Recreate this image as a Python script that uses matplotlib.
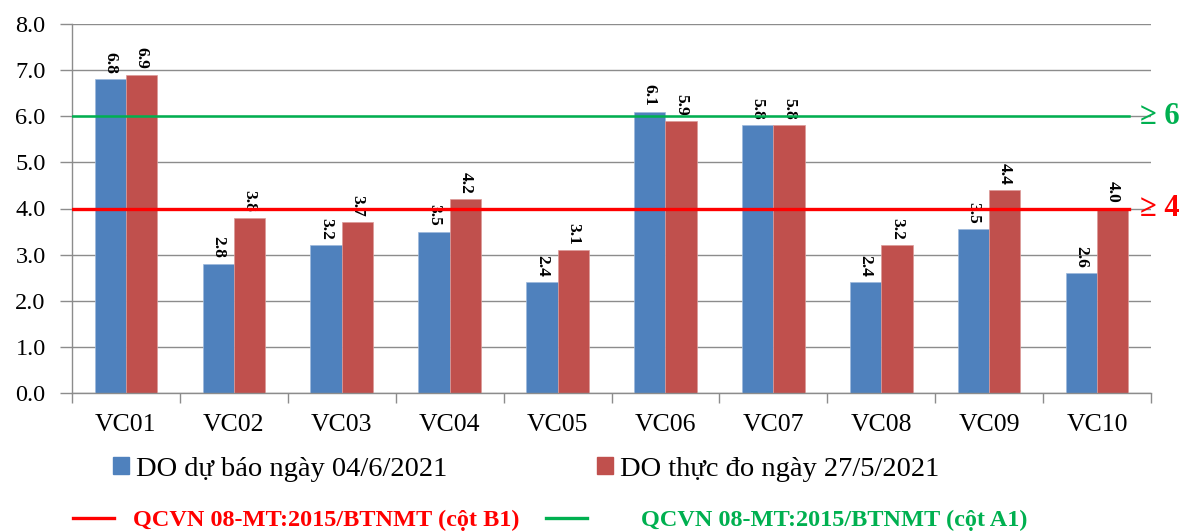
import matplotlib
matplotlib.use('Agg')
import matplotlib.pyplot as plt
import numpy as np
from matplotlib.lines import Line2D
from matplotlib.patches import Patch

# ── Data ──────────────────────────────────────────────────────────────────────
stations = ['VC01', 'VC02', 'VC03', 'VC04', 'VC05',
            'VC06', 'VC07', 'VC08', 'VC09', 'VC10']
do_forecast = [6.8, 2.8, 3.2, 3.5, 2.4, 6.1, 5.8, 2.4, 3.55, 2.6]
do_measured = [6.9, 3.8, 3.7, 4.2, 3.1, 5.9, 5.8, 3.2, 4.4, 4.0]
limit_b1 = 4
limit_a1 = 6
yticks = [0, 1, 2, 3, 4, 5, 6, 7, 8]

label_forecast = 'DO dự báo ngày 04/6/2021'
label_measured = 'DO thực đo ngày 27/5/2021'
label_b1 = 'QCVN 08-MT:2015/BTNMT (cột B1)'
label_a1 = 'QCVN 08-MT:2015/BTNMT (cột A1)'

# ── Theme ─────────────────────────────────────────────────────────────────────
BLUE = '#4F81BD'
RED_BAR = '#C0504D'
RED_LINE = '#FF0000'
GREEN = '#00B050'
GRID = '#8c8c8c'
SERIF = ['Liberation Serif', 'DejaVu Serif']

plt.rcParams['font.family'] = SERIF

W, H = 1187, 531
fig = plt.figure(figsize=(W / 100, H / 100), dpi=100)
ax = fig.add_axes([72 / W, 1 - 393 / H, (1151 - 72) / W, (393 - 24) / H])

x = np.arange(len(stations))
bw = 0.29
b1 = ax.bar(x - bw / 2, do_forecast, bw, color=BLUE, edgecolor='#9db9dc', linewidth=0.5, zorder=2)
b2 = ax.bar(x + bw / 2, do_measured, bw, color=RED_BAR, edgecolor='#dc9a98', linewidth=0.5, zorder=2)

# value labels (rotated, above bars)
for xs, vals in ((x - bw / 2, do_forecast), (x + bw / 2, do_measured)):
    for xi, v in zip(xs, vals):
        ax.annotate(f'{v:.1f}', (xi, v), xytext=(0, 4), textcoords='offset points',
                    rotation=270, ha='center', va='bottom', fontsize=12.5,
                    fontweight='bold', color='black', zorder=3)

# standard lines
ax.plot([-0.5, 9.3], [limit_a1, limit_a1], color=GREEN, lw=1.8, zorder=4)
ax.plot([-0.5, 9.3], [limit_b1, limit_b1], color=RED_LINE, lw=2.4, zorder=4)
ax.text(9.40, limit_a1, f'\u2265 {limit_a1}', color=GREEN, fontsize=22,
        fontweight='bold', va='center', ha='left', clip_on=False)
ax.text(9.40, limit_b1, f'\u2265 {limit_b1}', color=RED_LINE, fontsize=22,
        fontweight='bold', va='center', ha='left', clip_on=False)

# axes styling
ax.set_xlim(-0.5, len(stations) - 0.5)
ax.set_ylim(0, 8)
ax.set_yticks(yticks)
ax.set_yticklabels([f'{v:.1f}' for v in yticks])
ax.yaxis.grid(True, color=GRID, linewidth=1.0, zorder=0)
ax.set_axisbelow(True)
ax.set_xticks(x)
ax.set_xticklabels(stations)
ax.set_xticks(np.arange(len(stations) + 1) - 0.5, minor=True)
ax.tick_params(axis='x', which='major', length=0, pad=15, labelsize=18.5)
ax.tick_params(axis='x', which='minor', length=7, color=GRID, width=1)
ax.tick_params(axis='y', length=9, color=GRID, width=1, pad=10, labelsize=17.5)
for s in ('top', 'right'):
    ax.spines[s].set_visible(False)
for s in ('left', 'bottom'):
    ax.spines[s].set_color(GRID)
    ax.spines[s].set_linewidth(1.0)

# ── Legend rows ───────────────────────────────────────────────────────────────
common = dict(frameon=False, loc='center left', borderpad=0, borderaxespad=0)
fig.legend(handles=[Patch(color=BLUE)], labels=[label_forecast],
           bbox_to_anchor=(113 / W, 1 - 469 / H), handlelength=0.55, handleheight=0.55,
           handletextpad=0.26, prop=dict(family=SERIF, size=20.5), **common)
fig.legend(handles=[Patch(color=RED_BAR)], labels=[label_measured],
           bbox_to_anchor=(597 / W, 1 - 469 / H), handlelength=0.55, handleheight=0.55,
           handletextpad=0.26, prop=dict(family=SERIF, size=20.5), **common)
fig.legend(handles=[Line2D([], [], color=RED_LINE, lw=2.4)], labels=[label_b1],
           bbox_to_anchor=(73 / W, 1 - 520 / H), handlelength=1.7,
           handletextpad=0.75, labelcolor=RED_LINE,
           prop=dict(family=SERIF, size=17.5, weight='bold'), **common)
fig.legend(handles=[Line2D([], [], color=GREEN, lw=2.4)], labels=[label_a1],
           bbox_to_anchor=(546 / W, 1 - 520 / H), handlelength=1.7,
           handletextpad=2.2, labelcolor=GREEN,
           prop=dict(family=SERIF, size=17.5, weight='bold'), **common)

fig.savefig('out.png', dpi=100)
